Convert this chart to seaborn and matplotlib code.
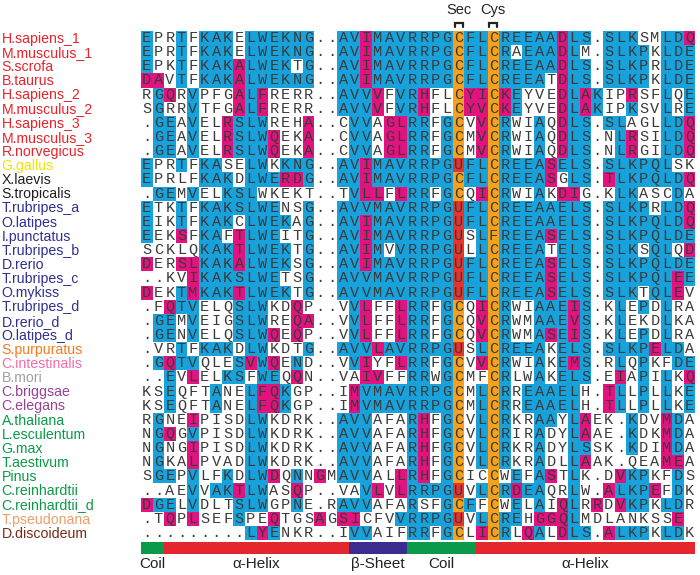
import numpy as np
import matplotlib
matplotlib.use("Agg")
import matplotlib.pyplot as plt
import seaborn as sns
from matplotlib.colors import ListedColormap
from matplotlib.transforms import blended_transform_factory

species = ["H.sapiens_1", "M.musculus_1", "S.scrofa", "B.taurus", "H.sapiens_2",
           "M.musculus_2", "H.sapiens_3", "M.musculus_3", "R.norvegicus", "G.gallus",
           "X.laevis", "S.tropicalis", "T.rubripes_a", "O.latipes", "I.punctatus",
           "T.rubripes_b", "D.rerio", "T.rubripes_c", "O.mykiss", "T.rubripes_d",
           "D.rerio_d", "O.latipes_d", "S.purpuratus", "C.intestinalis", "B.mori",
           "C.briggsae", "C.elegans", "A.thaliana", "L.esculentum", "G.max",
           "T.aestivum", "Pinus", "C.reinhardtii", "C.reinhardtii_d", "T.pseudonana",
           "D.discoideum"]

species_colors = (["#e8232a"] * 9 + ["#f2e200"] + ["#231f20"] * 2 + ["#2e3092"] * 10 +
                  ["#f37b21", "#f06eaa", "#a0a0a0", "#9b3f97", "#9b3f97"] +
                  ["#0a9a47"] * 7 + ["#e8a06b", "#7a2b14"])

sequences = [
    "EPRTFKAKELWEKNG..AVIMAVRRPGCFLCREEAADLS.SLKSMLDQ",
    "EPRTFKAKELWEKNG..AVIMAVRRPGCFLCRAEAADLM.SLKPKLDE",
    "EPKTFKAKALWEKTG..AVIMAVRRPGCFLCREEAADLS.SLKPRLDE",
    "DAVTFKAKALWEKNG..AVIMAVRRPGCFLCREEATDLS.SLKPKLDE",
    "RGQRVPFGALFRERR..AVVVFVRHFLCYICKEYVEDLAKIPRSFLQE",
    "SGRRVTFGALFRERR..AVVVFVRHFLCYVCKEYVEDLAKIPKSVLRE",
    ".GEAVELRSLWREHA..CVVAGLRRFGCVVCRWIAQDLS.SLAGLLDQ",
    ".GEAVELRSLWQEKA..CVVAGLRRFGCMVCRWIAQDLS.NLRSILDQ",
    ".GEAVELRSLWQEKA..CVVAGLRRFGCMVCRWIAQDLS.NLRGILDQ",
    "EPRTFKASELWKKNG..AVIMAVRRPGUFLCREEASELS.SLKPQLSK",
    "EPRLFKAKDLWERDG..AVIMAVRRPGCFLCREEASGLS.TLKPQLDQ",
    ".GEMVELKSLWKEKT..TVLLFLRRFGCQICRWIAKDIG.KLKASCDA",
    "ETKTFKAKSLWENSG..AVVMAVRRPGUFLCREEAAELS.SLKPRLDQ",
    "EIKTFKAKCLWEKAG..AVIMAVRRPGUFLCREEAAELS.SLKPQLDQ",
    "EEKSFKAFTLWEITG..AVIMAVRRPGUSLFREEASELS.SLKPQLDE",
    "SCKLQKAKTLWEKTG..AVIMVVRRPGULLCREEATELS.SLKSQLQD",
    "DERSLKAKALWEKSG..AVIMAVRRPGUFLCREEASELS.SLKPQLDE",
    "..KVIKAKSLWETSG..AVVMAVRRPGUFLCREEASELS.SLKPQLEE",
    "DEKTMKAKTLWEKTG..AVVMAVRRPGUFLCREEASELS.SLKTQLEV",
    ".FQTVELQSLWKDQP..VVLFFLRRFGCQICRWIAAEIS.KLEPDLRA",
    ".GEMVEIGSLWREQA..VVLFFLRRFGCQVCRWMAAEVS.KLEKDLKA",
    ".GENVELQSLWQEQP..VVLFFLRRFGCQVCRWMASEIS.KLEPDLRA",
    ".VRTFKAKDLWKDTG..AVVLAVRRPGUSLCREEAKELS.SLKPELDA",
    ".GQTVQLESVWQEND..VVIYFLRRFGCVVCRWIAKEMS.RLQPKFDE",
    "..EVLELKSFWEQQN..VAIVFFRRWGCMFCRLWAKELS.EIAPILKQ",
    "KSEQFTANELFQKGP..IMVMAVRRPGCMLCRREAAELH.TLLPLLKE",
    "KSEQFTANELFQKGP..IMVMAVRRPGCMLCRREAAELH.TLLPLLKE",
    "RGNEIPISDLWKDRK..AVVAFARHFGCVLCRKRAAYLAEK.KDVMDA",
    "NGQGVPISDLWKDRK..AVVAFARHFGCVLCRIRADYLAAE.KDKMDA",
    "NGNGIPISDLWKDRK..AVVAFARHFGCVLCRKRADYLSSK.KDIMDA",
    "NGKALPVADLWKDRK..AVVAFARHFGCVLCRKRADLLAAK.QEAMEA",
    "SGEPVLFKDLWDQNNGMAVVALLRHFGCICCWEFASTLK.DVKPKFDS",
    "..AEVVAKTLWASQP..VAVLVLRRPGUVLCRDEAQRLW.ALKPEFDK",
    "DGELVDLTSLWGPNE.RAVVAFARSFGCFFCWELAIQLRRDVKPKLDR",
    ".TQPLSEFSPEQTGSAGSICFVVRRPGUVLCREHGGQLMDLANKSSE ",
    ".........LYENKR..IVVAIFRRFGCLICRLQALDLS.ALKPKLDK",
]

# shading class per residue: '-' none, 'b' identical, 'm' similar, 'o' Cys, 'r' Sec
shading = [
    "b--b-bbb" "-bbbbbb-" "-bbmbbbb" "bbbobbob" "bbbbmbb-" "bbb--bbm",
    "b--b-bbb" "-bbbbbb-" "-bbmbbbb" "bbbobbob" "-bbbmb--" "bbbb-bbb",
    "b--b-bbb" "mbbbb-b-" "-bbmbbbb" "bbbobbob" "bbbbmbb-" "bbbb-bbb",
    "mm-b-bbb" "mbbbbbb-" "-bbmbbbb" "bbbobbob" "bbb-mbb-" "bbbb-bbb",
    "-bm-b---" "mbm-----" "-bbbm-bb" "m--ommom" "b---mbmb" "--m--b-b",
    "-b--b---" "mbm-----" "-bbbm-bb" "m--ommom" "b---mbmb" "--b--b-b",
    "-bb-b--m" "bbb---m-" "--bb-mmb" "b-bo-mob" "--b-mbb-" "bb---bbm",
    "-bb-b--m" "bbbm--m-" "--bb-mmb" "b-bo-mob" "--b-mbb-" "-bm--bbm",
    "-bb-b--m" "bbbm--m-" "--bb-mmb" "b-bo-mob" "--b-mbb-" "-bm--bbm",
    "b--b-bb-" "-bb-bbb-" "-bbmbbbb" "bbbrbbob" "bbbmbbb-" "bbbbbb--",
    "b----bbb" "-bbbmmb-" "-bbmbbbb" "bbbobbob" "bbbm-bb-" "mbbbbbbm",
    "-bb-b--b" "bb------" "--bmm-mb" "b-bo-mob" "--b-mm--" "-bb---b-",
    "b--b-bbb" "bbbb--b-" "-bbbbbbb" "bbbrbbob" "bbbbbbb-" "bbbb-bbm",
    "b--b-bbb" "-bbbb-b-" "-bbmbbbb" "bbbrbbob" "bbbbbbb-" "bbbbbbbm",
    "b--m-bb-" "mbbb--b-" "-bbmbbbb" "bbbr-bob" "bbbmbbb-" "bbbbbbbb",
    "-----bbb" "mbbbb-b-" "-bbmb-bb" "bbbr-bob" "bbb-bbb-" "bbb-bb-m",
    "m--mmbbb" "mbbbb-b-" "-bbmbbbb" "bbbrbbob" "bbbmbbb-" "bbbbbbbb",
    "----mbbb" "bbbb--b-" "-bbbbbbb" "bbbrbbob" "bbbmbbb-" "bbbbbbmb",
    "m--bmbbb" "mbbbb-b-" "-bbbbbbb" "bbbrbbob" "bbbmbbb-" "bbb-bbm-",
    "--mbb---" "bbb--m--" "--bm--mb" "b-bo-mob" "--bbbmb-" "-b-b-b--",
    "-bb-b---" "bbb--mm-" "--bm--mb" "b-bo-mob" "--bbbmb-" "-b---b--",
    "-bb-b---" "bbbm-m--" "--bm--mb" "b-bo-mob" "--bmbmb-" "-b-b-b--",
    "---b-bbb" "-bb---b-" "-bbbmbbb" "bbbr-bob" "bbb-bbb-" "bbbbmbb-",
    "-bmbb---" "bmbm-b--" "--bm--mb" "b-bo-mob" "--b-bmb-" "-b-b--bb",
    "--b-m--b" "b-bb-m--" "---mm--b" "b-bo--ob" "--b-bbb-" "-m-b-b-m",
    "--b---b-" "-bmmb---" "--mbbbbb" "bbbo-bob" "-bbbbb--" "mb-b-b-b",
    "--b---b-" "-bmmb---" "--mbbbbb" "bbbo-bob" "-bbbbb--" "mb-b-b-b",
    "-b--m---" "-bb-----" "-bbb---b" "m-bo-bob" "--bb-bm-" "--b--mb-",
    "-bm-b---" "-bb-----" "-bbb---b" "m-bo-bob" "--b--bm-" "--b--mb-",
    "-b--m---" "-bb-----" "-bbb---b" "m-bo-bob" "--b--bb-" "--b--mb-",
    "-b--m---" "-bb-----" "-bbb---b" "m-bo-bob" "--b--bm-" "-----mm-",
    "-bb-b--b" "-bbm-b-m" "-bbb--mb" "m-bo--o-" "b-bm-b--" "-mbb--b-",
    "----b-bb" "mbb--m--" "---bm-mb" "bbbr-bob" "mbb--b--" "mbbbm-b-",
    "mbb-b---" "bbb--b--" "-bbb---b" "--bob-o-" "b-b-mb-m" "-mbb-bb-",
    "--m-m---" "b--m---m" "-mm---bb" "bbbr-bob" "b-mmmb--" "------m-",
    "--------" "-bmb----" "--bb---b" "b-bo-mob" "-mb-mbb-" "mbbb-bb-",
]

shade_codes = ["-", "b", "m", "o", "r"]
shade_colors = ["#ffffff", "#18a2dc", "#e2137e", "#f5a11c", "#e8332a"]

ss_names = ["Coil", "α-Helix", "β-Sheet", "Coil", "α-Helix"]
ss_lengths = [2, 16, 5, 6, 19]
ss_colors = ["#0b9a49", "#e4262d", "#3a2d8f", "#0b9a49", "#e4262d"]

site_names = ["Sec", "Cys"]
site_columns = [27, 30]

# ---------------------------------------------------------------
n_rows = len(sequences)
n_cols = len(sequences[0])
shade_matrix = np.array([[shade_codes.index(c) for c in row] for row in shading])
letters = np.array([list(s) for s in sequences])

sns.set_theme(style="white")
plt.rcParams["font.family"] = ["Liberation Sans", "DejaVu Sans"]

W, H = 700, 575
fig = plt.figure(figsize=(W / 100, H / 100), dpi=100)

top_px, row_h, left_px, col_w = 31.0, 14.14, 141.0, 11.55
ax = fig.add_axes([left_px / W, 1 - (top_px + n_rows * row_h) / H,
                   n_cols * col_w / W, n_rows * row_h / H])
sns.heatmap(shade_matrix, ax=ax, cmap=ListedColormap(shade_colors),
            vmin=-0.5, vmax=len(shade_colors) - 0.5, cbar=False,
            annot=letters, fmt="",
            annot_kws=dict(fontsize=11, family="Liberation Mono", color="#3a3a3a"),
            linewidths=0, xticklabels=False, yticklabels=False)

# species names
trans = blended_transform_factory(fig.transFigure, ax.transData)
for i, (name, col) in enumerate(zip(species, species_colors)):
    ax.text(1.5 / W, i + 0.55, name, transform=trans, ha="left", va="center",
            fontsize=10.2, fontfamily="Liberation Sans", color=col)

# Sec / Cys markers
for name, c in zip(site_names, site_columns):
    ax.text(c + 0.5, -1.5, name, ha="center", va="center", fontsize=10.5,
            color="#222222", clip_on=False)
    ax.plot([c + 0.15, c + 0.15, c + 0.85, c + 0.85], [-0.27, -0.57, -0.57, -0.27],
            color="#222222", lw=1.6, clip_on=False, solid_joinstyle="miter")

# secondary structure bar
ax2 = fig.add_axes([left_px / W, 1 - 554 / H, n_cols * col_w / W, 12 / H])
ss_index = np.repeat(np.arange(len(ss_lengths)), ss_lengths)[None, :]
sns.heatmap(ss_index, ax=ax2, cmap=ListedColormap(ss_colors),
            vmin=-0.5, vmax=len(ss_colors) - 0.5, cbar=False,
            xticklabels=False, yticklabels=False, linewidths=0)
trans2 = blended_transform_factory(ax2.transData, fig.transFigure)
starts = np.concatenate([[0], np.cumsum(ss_lengths)[:-1]])
for name, s, n in zip(ss_names, starts, ss_lengths):
    ax2.text(s + n / 2, 1 - 564 / H, name, transform=trans2, ha="center",
             va="center", fontsize=11, color="#222222")

fig.savefig("out.png", dpi=100)
